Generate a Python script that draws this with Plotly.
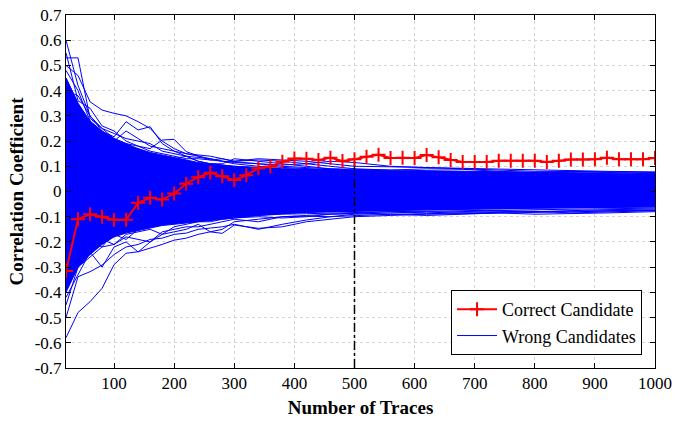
import plotly.graph_objects as go

# ---------------- data ----------------
traces_x = list(range(20, 1001, 20))
correct = [-0.315, -0.11, -0.09, -0.10, -0.112, -0.112, -0.045, -0.025, -0.032, -0.008,
           0.031, 0.057, 0.074, 0.060, 0.046, 0.064, 0.092, 0.099, 0.118, 0.131,
           0.130, 0.125, 0.134, 0.121, 0.128, 0.138, 0.146, 0.133, 0.134, 0.133,
           0.145, 0.136, 0.125, 0.117, 0.117, 0.117, 0.122, 0.122, 0.122, 0.122,
           0.117, 0.122, 0.127, 0.127, 0.128, 0.134, 0.128, 0.128, 0.128, 0.133]

wrong_x = [20, 40, 60, 80, 100, 120, 140, 160, 180, 200, 220, 240, 260, 280, 300,
           340, 380, 420, 460, 500, 560, 620, 680, 740, 800, 860, 920, 1000]

# dense core of the wrong-candidate bundle (upper / lower envelope)
core_top = [0.45, 0.35, 0.28, 0.24, 0.21, 0.19, 0.17, 0.155, 0.145, 0.135, 0.125, 0.115, 0.11, 0.105,
            0.10, 0.095, 0.09, 0.088, 0.085, 0.083, 0.08, 0.078, 0.076, 0.074, 0.072, 0.07, 0.068, 0.066]
core_bot = [-0.40, -0.30, -0.25, -0.21, -0.18, -0.165, -0.155, -0.145, -0.135, -0.13, -0.125, -0.12,
            -0.115, -0.11, -0.105, -0.095, -0.088, -0.083, -0.08, -0.078, -0.075, -0.072, -0.07, -0.068,
            -0.066, -0.064, -0.062, -0.06]

# individual wrong candidates that stand out of the bundle
w01 = [0.60, 0.42, 0.30, 0.24, 0.20, 0.17, 0.15, 0.14, 0.13, 0.12, 0.11, 0.10, 0.10, 0.095, 0.09,
       0.088, 0.085, 0.083, 0.08, 0.078, 0.075, 0.073, 0.072, 0.07, 0.068, 0.067, 0.066, 0.065]
w02 = [0.50, 0.46, 0.356, 0.323, 0.31, 0.30, 0.277, 0.25, 0.20, 0.17, 0.15, 0.14, 0.13, 0.12, 0.115,
       0.11, 0.105, 0.11, 0.12, 0.115, 0.10, 0.095, 0.09, 0.085, 0.08, 0.08, 0.078, 0.075]
w03 = [0.53, 0.53, 0.29, 0.25, 0.23, 0.21, 0.20, 0.19, 0.16, 0.15, 0.14, 0.12, 0.11, 0.105, 0.10,
       0.095, 0.09, 0.088, 0.085, 0.082, 0.08, 0.078, 0.075, 0.073, 0.072, 0.07, 0.068, 0.067]
w04 = [0.45, 0.35, 0.26, 0.24, 0.217, 0.277, 0.244, 0.257, 0.19, 0.16, 0.14, 0.135, 0.13, 0.12, 0.11,
       0.10, 0.095, 0.09, 0.085, 0.082, 0.08, 0.078, 0.076, 0.074, 0.072, 0.07, 0.068, 0.066]
w05 = [0.40, 0.38, 0.30, 0.25, 0.21, 0.19, 0.18, 0.17, 0.204, 0.207, 0.158, 0.14, 0.125, 0.12, 0.118,
       0.11, 0.10, 0.095, 0.09, 0.085, 0.082, 0.08, 0.078, 0.075, 0.074, 0.072, 0.07, 0.068]
w06 = [0.48, 0.40, 0.28, 0.22, 0.20, 0.24, 0.21, 0.18, 0.17, 0.16, 0.15, 0.145, 0.14, 0.13, 0.12,
       0.125, 0.12, 0.11, 0.10, 0.09, 0.085, 0.082, 0.08, 0.078, 0.076, 0.075, 0.074, 0.072]
w07 = [0.55, 0.36, 0.33, 0.26, 0.24, 0.20, 0.18, 0.16, 0.15, 0.14, 0.13, 0.13, 0.125, 0.13, 0.12,
       0.13, 0.125, 0.12, 0.11, 0.10, 0.098, 0.095, 0.092, 0.088, 0.085, 0.083, 0.08, 0.078]
w08 = [0.35, 0.30, 0.27, 0.21, 0.18, 0.16, 0.17, 0.15, 0.14, 0.13, 0.14, 0.12, 0.11, 0.11, 0.13,
       0.12, 0.11, 0.10, 0.09, 0.088, 0.085, 0.09, 0.088, 0.08, 0.075, 0.08, 0.075, 0.07]
w11 = [-0.58, -0.48, -0.437, -0.384, -0.29, -0.245, -0.239, -0.225, -0.21, -0.193, -0.185, -0.17, -0.16,
       -0.166, -0.133, -0.146, -0.14, -0.12, -0.11, -0.10, -0.095, -0.09, -0.088, -0.085, -0.083, -0.08,
       -0.078, -0.075]
w12 = [-0.50, -0.338, -0.318, -0.292, -0.25, -0.22, -0.21, -0.19, -0.185, -0.17, -0.165, -0.15, -0.145,
       -0.14, -0.13, -0.15, -0.13, -0.113, -0.10, -0.095, -0.09, -0.088, -0.085, -0.082, -0.08, -0.078,
       -0.076, -0.074]
w13 = [-0.42, -0.33, -0.24, -0.30, -0.22, -0.20, -0.24, -0.20, -0.17, -0.16, -0.15, -0.13, -0.16, -0.15,
       -0.12, -0.11, -0.10, -0.095, -0.09, -0.088, -0.09, -0.095, -0.09, -0.085, -0.09, -0.088, -0.085, -0.08]
w14 = [-0.45, -0.30, -0.26, -0.22, -0.21, -0.18, -0.19, -0.20, -0.16, -0.15, -0.14, -0.14, -0.13, -0.12,
       -0.11, -0.12, -0.10, -0.098, -0.10, -0.09, -0.085, -0.08, -0.082, -0.08, -0.078, -0.085, -0.08, -0.076]
w15 = [-0.38, -0.28, -0.22, -0.19, -0.21, -0.17, -0.16, -0.15, -0.17, -0.14, -0.13, -0.12, -0.12, -0.11,
       -0.105, -0.10, -0.105, -0.10, -0.09, -0.085, -0.08, -0.085, -0.08, -0.075, -0.08, -0.075, -0.072, -0.07]
w16 = [-0.33, -0.26, -0.25, -0.18, -0.17, -0.19, -0.15, -0.14, -0.13, -0.125, -0.12, -0.11, -0.11, -0.105,
       -0.10, -0.095, -0.09, -0.088, -0.085, -0.082, -0.08, -0.078, -0.076, -0.074, -0.072, -0.07, -0.068, -0.066]
w17 = [-0.30, -0.22, -0.20, -0.22, -0.16, -0.15, -0.14, -0.13, -0.12, -0.12, -0.115, -0.11, -0.10, -0.10,
       -0.095, -0.09, -0.085, -0.082, -0.08, -0.078, -0.075, -0.072, -0.07, -0.068, -0.066, -0.065, -0.064, -0.062]
wrong_lines = [w01, w02, w03, w04, w05, w06, w07, w08, w11, w12, w13, w14, w15, w16, w17]

marker_trace = 500
x_ticks = [100, 200, 300, 400, 500, 600, 700, 800, 900, 1000]
y_ticks = [-0.7, -0.6, -0.5, -0.4, -0.3, -0.2, -0.1, 0, 0.1, 0.2, 0.3, 0.4, 0.5, 0.6, 0.7]
y_labels = ["-0.7", "-0.6", "-0.5", "-0.4", "-0.3", "-0.2", "-0.1", "0",
            "0.1", "0.2", "0.3", "0.4", "0.5", "0.6", "0.7"]

# ---------------- figure ----------------
BLUE = "#0000ff"
RED = "#ff0000"
FONT = "Liberation Serif, Times New Roman, serif"

fig = go.Figure()

fig.add_trace(go.Scatter(
    x=wrong_x + wrong_x[::-1], y=core_top + core_bot[::-1],
    mode="lines", fill="toself", fillcolor=BLUE,
    line=dict(color=BLUE, width=1), showlegend=False, hoverinfo="skip"))

for i, w in enumerate(wrong_lines):
    fig.add_trace(go.Scatter(
        x=wrong_x, y=w, mode="lines", line=dict(color=BLUE, width=1),
        name="Wrong Candidates", showlegend=(i == 0), legendrank=2))

idx = traces_x.index(marker_trace)
fig.add_trace(go.Scatter(
    x=[marker_trace, marker_trace], y=[y_ticks[0], correct[idx]],
    mode="lines", line=dict(color="black", width=1.5, dash="dashdot"),
    showlegend=False))

fig.add_trace(go.Scatter(
    x=traces_x, y=correct, mode="lines+markers", name="Correct Candidate",
    line=dict(color=RED, width=2),
    marker=dict(symbol="cross-thin", size=10, color=RED, line=dict(color=RED, width=2)),
    legendrank=1))

axis_common = dict(
    showline=True, linecolor="black", linewidth=1, mirror="ticks",
    ticks="inside", ticklen=5, tickcolor="black", tickwidth=1,
    showgrid=True, gridcolor="#d4d4d4", griddash="dot", gridwidth=1,
    zeroline=False, automargin=False,
    tickfont=dict(family=FONT, size=17, color="black"),
)

fig.update_xaxes(range=[20, 1000], tickvals=x_ticks,
                 title=dict(text="<b>Number of Traces</b>", font=dict(family=FONT, size=19, color="black"),
                            standoff=8),
                 **axis_common)
fig.update_yaxes(range=[-0.7, 0.7], tickvals=y_ticks, ticktext=y_labels,
                 title=dict(text="<b>Correlation Coefficient</b>", font=dict(family=FONT, size=19, color="black"),
                            standoff=6),
                 **axis_common)

fig.update_layout(
    width=676, height=422,
    margin=dict(l=66, r=21, t=15, b=54),
    plot_bgcolor="white", paper_bgcolor="white",
    font=dict(family=FONT, color="black"),
    legend=dict(x=0.978, y=0.037, xanchor="right", yanchor="bottom",
                bgcolor="white", bordercolor="black", borderwidth=1,
                font=dict(family=FONT, size=18, color="black"),
                tracegroupgap=0, itemwidth=40),
)

fig.write_html("out.html")
